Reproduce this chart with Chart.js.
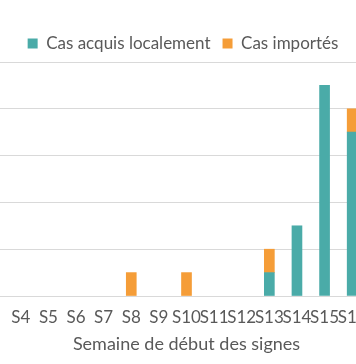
<!DOCTYPE html>
<html>
<head>
<meta charset="utf-8">
<script src="https://cdn.jsdelivr.net/npm/chart.js@4/dist/chart.umd.min.js"></script>
<style>
  html, body { margin: 0; padding: 0; background: #fff; overflow: hidden; }
  #wrap { position: absolute; left: 0; top: 0; width: 400px; height: 364px; }
</style>
</head>
<body>
<div id="wrap"><canvas id="c"></canvas></div>
<script>
const categories = ['S4','S5','S6','S7','S8','S9','S10','S11','S12','S13','S14','S15','S16'];
const localCases = [0,0,0,0,0,0,0,0,0,1,3,9,7];
const importedCases = [0,0,0,0,1,0,1,0,0,1,0,0,1];
const yTicks = [0,2,4,6,8,10];

const TEAL = '#4aaba8';
const ORANGE = '#f59d38';
const TXT = '#595959';
const FONT = 'Lato, "Open Sans", sans-serif';

const noZero = (arr) => arr.map(v => (v === 0 ? null : v));

new Chart(document.getElementById('c'), {
  type: 'bar',
  data: {
    labels: categories,
    datasets: [
      { label: 'Cas acquis localement', data: noZero(localCases), backgroundColor: TEAL, borderWidth: 0 },
      { label: 'Cas importés', data: noZero(importedCases), backgroundColor: ORANGE, borderWidth: 0 }
    ]
  },
  options: {
    responsive: true,
    maintainAspectRatio: false,
    animation: false,
    datasets: { bar: { barThickness: 10 } },
    layout: { padding: { top: 23, right: 34, bottom: 9, left: 0 } },
    plugins: {
      legend: {
        position: 'top',
        labels: {
          color: TXT,
          font: { family: FONT, size: 17 },
          boxWidth: 10, boxHeight: 10,
          padding: 12
        }
      },
      tooltip: { enabled: false }
    },
    scales: {
      x: {
        stacked: true,
        grid: { display: false, drawTicks: false },
        border: { display: false },
        ticks: { color: TXT, font: { family: FONT, size: 17 }, autoSkip: false, maxRotation: 0, minRotation: 0, padding: 11 },
        title: { display: true, text: 'Semaine de début des signes', color: TXT, font: { family: FONT, size: 18 }, padding: { top: 0, bottom: 0 } },
        afterFit: (scale) => { scale.height = 59; }
      },
      y: {
        stacked: true,
        min: yTicks[0],
        max: yTicks[yTicks.length - 1],
        afterBuildTicks: (s) => { s.ticks = yTicks.map(v => ({ value: v })); },
        grid: { color: '#d9d9d9', lineWidth: 1, drawTicks: true, tickLength: 7 },
        border: { display: false },
        ticks: { display: false }
      }
    }
  }
});
</script>
</body>
</html>
